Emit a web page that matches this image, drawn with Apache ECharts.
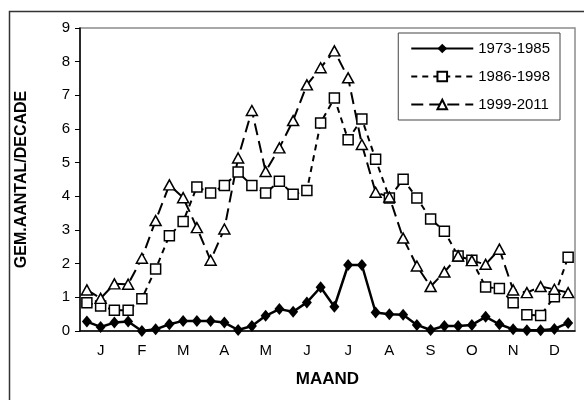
<!DOCTYPE html>
<html>
<head>
<meta charset="utf-8">
<script src="https://cdn.jsdelivr.net/npm/echarts@6/dist/echarts.min.js"></script>
<style>
  html, body { margin: 0; padding: 0; background: #fff; }
  #chart { width: 584px; height: 400px; }
</style>
</head>
<body>
<div id="chart"></div>
<script>
// decades: 3 per month, month letter sits on the middle decade
var months = ["J", "F", "M", "A", "M", "J", "J", "A", "S", "O", "N", "D"];
var categories = [];
months.forEach(function (m) { categories.push("", m, ""); });

var yTicks = [0, 1, 2, 3, 4, 5, 6, 7, 8, 9];

var s1973 = [0.28, 0.12, 0.25, 0.28, 0.0, 0.05, 0.2, 0.3, 0.3, 0.3, 0.25, 0.03,
  0.15, 0.45, 0.65, 0.57, 0.85, 1.3, 0.72, 1.96, 1.96, 0.55, 0.5, 0.48,
  0.18, 0.03, 0.15, 0.15, 0.18, 0.42, 0.2, 0.05, 0.02, 0.02, 0.06, 0.24];
var s1986 = [0.84, 0.74, 0.62, 0.62, 0.96, 1.84, 2.83, 3.25, 4.28, 4.1, 4.32, 4.72,
  4.32, 4.1, 4.45, 4.06, 4.17, 6.18, 6.92, 5.68, 6.3, 5.1, 3.95, 4.51,
  3.95, 3.33, 2.96, 2.23, 2.1, 1.31, 1.26, 0.84, 0.48, 0.46, 1.02, 2.19];
var s1999 = [1.22, 0.97, 1.4, 1.39, 2.16, 3.28, 4.34, 3.96, 3.07, 2.1, 3.03, 5.14,
  6.55, 4.74, 5.44, 6.25, 7.31, 7.82, 8.32, 7.52, 5.54, 4.12, 3.98, 2.76,
  1.93, 1.32, 1.75, 2.23, 2.09, 1.98, 2.43, 1.22, 1.14, 1.32, 1.24, 1.14];

var font = "Liberation Sans, Arial, sans-serif";
var chart = echarts.init(document.getElementById("chart"));

chart.setOption({
  animation: false,
  backgroundColor: "#fff",
  textStyle: { fontFamily: font },
  graphic: [{
    type: "rect",
    left: 7, top: 9,
    shape: { width: 600, height: 420 },
    style: { fill: "none", stroke: "#333", lineWidth: 1.5 },
    silent: true
  }],
  grid: {
    left: 80, right: 9, top: 28, bottom: 69,
    show: true, borderColor: "#8c8c8c", borderWidth: 1.5, backgroundColor: "transparent"
  },
  legend: {
    orient: "vertical",
    right: 24, top: 33,
    itemWidth: 62, itemHeight: 12, itemGap: 13,
    padding: [8, 10, 8, 12],
    borderColor: "#444", borderWidth: 1,
    textStyle: { fontSize: 15, color: "#000", fontFamily: font },
    data: ["1973-1985", "1986-1998", "1999-2011"]
  },
  xAxis: {
    type: "category",
    data: categories,
    boundaryGap: true,
    name: "MAAND",
    nameLocation: "middle",
    nameGap: 40,
    nameTextStyle: { fontSize: 17, fontWeight: "bold", color: "#000", fontFamily: font },
    axisLine: { lineStyle: { color: "#000", width: 1.5 } },
    axisTick: { length: 5, lineStyle: { color: "#000" }, interval: function (i) { return i % 3 === 0; } },
    axisLabel: { interval: 0, margin: 12, fontSize: 15, color: "#000", fontFamily: font },
    splitLine: { show: false }
  },
  yAxis: {
    type: "value",
    min: yTicks[0], max: yTicks[yTicks.length - 1], interval: 1,
    name: "GEM.AANTAL/DECADE",
    nameLocation: "middle",
    nameGap: 50,
    nameTextStyle: { fontSize: 16, fontWeight: "bold", color: "#000", fontFamily: font },
    axisLine: { show: true, lineStyle: { color: "#000", width: 1.5 } },
    axisTick: { show: true, length: 5, lineStyle: { color: "#000" } },
    axisLabel: { margin: 10, fontSize: 15, color: "#000", fontFamily: font },
    splitLine: { show: false }
  },
  series: [
    {
      name: "1973-1985", type: "line", data: s1973,
      symbol: "diamond", symbolSize: [10, 12],
      itemStyle: { color: "#000" },
      lineStyle: { color: "#000", width: 2.5 }
    },
    {
      name: "1986-1998", type: "line", data: s1986,
      symbol: "rect", symbolSize: 10,
      itemStyle: { color: "#fff", borderColor: "#000", borderWidth: 1.5 },
      lineStyle: { color: "#000", width: 2, type: [6, 5] }
    },
    {
      name: "1999-2011", type: "line", data: s1999,
      symbol: "triangle", symbolSize: [11, 10],
      itemStyle: { color: "#fff", borderColor: "#000", borderWidth: 1.5 },
      lineStyle: { color: "#000", width: 2, type: [12, 6] }
    }
  ]
});
</script>
</body>
</html>
